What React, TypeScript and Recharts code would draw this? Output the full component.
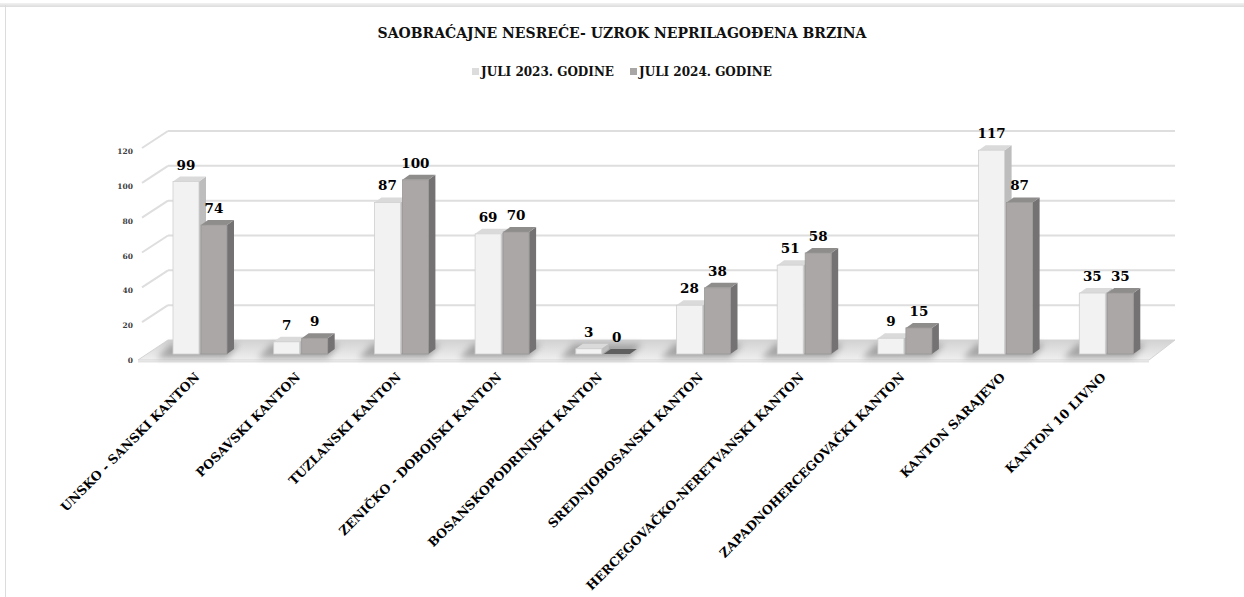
import React from 'react';
import { BarChart, Bar, XAxis, YAxis, CartesianGrid, LabelList } from 'recharts';

const CANTONS = [
  'UNSKO - SANSKI KANTON',
  'POSAVSKI KANTON',
  'TUZLANSKI KANTON',
  'ZENIČKO - DOBOJSKI KANTON',
  'BOSANSKOPODRINJSKI KANTON',
  'SREDNJOBOSANSKI KANTON',
  'HERCEGOVAČKO-NERETVANSKI KANTON',
  'ZAPADNOHERCEGOVAČKI KANTON',
  'KANTON SARAJEVO',
  'KANTON 10 LIVNO',
];
const JULY_2023 = [99, 7, 87, 69, 3, 28, 51, 9, 117, 35];
const JULY_2024 = [74, 9, 100, 70, 0, 38, 58, 15, 87, 35];
const Y_TICKS = [0, 20, 40, 60, 80, 100, 120];

const SERIES_2023 = 'JULI 2023. GODINE';
const SERIES_2024 = 'JULI 2024. GODINE';

const data = CANTONS.map((name, i) => ({ name, y2023: JULY_2023[i], y2024: JULY_2024[i] }));

const FONT = '"DejaVu Serif", "Liberation Serif", serif';

// depth of the fake 3D: floor/grid back wall and bar boxes
const BACK = { dx: 18, dy: -14 };
const FRONT = { dx: -12, dy: 6 };
const BOX = { dx: 7, dy: -5 };

const PALETTE = {
  light: { front: '#f2f2f2', top: '#dadada', side: '#bdbdbd', stroke: '#cfcfcf' },
  dark: { front: '#aba7a7', top: '#8f8c8c', side: '#747272', stroke: '#9a9696' },
};

function Box3D(props: any) {
  const { x, y, width, height, tone } = props;
  const c = PALETTE[tone as 'light' | 'dark'];
  const yb = y + (height || 0);
  // floor shadow under the pair, drawn with the first series only
  const shadow =
    tone === 'light' ? (
      <polygon
        points={`${x - 16},${yb + 4} ${x + width * 2 + 2},${yb + 4} ${x + width * 2 + 14},${yb - 10} ${x - 2},${yb - 10}`}
        fill="#7a7a7a"
        opacity={0.6}
        filter="url(#floorBlur)"
      />
    ) : null;
  if (height <= 0.5) {
    return (
      <g>
        {shadow}
        <polygon
          points={`${x},${yb} ${x + BOX.dx},${yb + BOX.dy} ${x + width + BOX.dx},${yb + BOX.dy} ${x + width},${yb}`}
          fill={tone === 'light' ? '#f4f4f4' : '#5f5f5f'}
          stroke={tone === 'light' ? '#d0d0d0' : 'none'}
          strokeWidth={0.6}
        />
      </g>
    );
  }
  const top = `${x},${y} ${x + BOX.dx},${y + BOX.dy} ${x + width + BOX.dx},${y + BOX.dy} ${x + width},${y}`;
  const side = `${x + width},${y} ${x + width + BOX.dx},${y + BOX.dy} ${x + width + BOX.dx},${yb + BOX.dy} ${x + width},${yb}`;
  return (
    <g>
      {shadow}
      <polygon points={side} fill={c.side} />
      <polygon points={top} fill={c.top} />
      <rect x={x} y={y} width={width} height={height} fill={c.front} stroke={c.stroke} strokeWidth={0.8} />
    </g>
  );
}

function GridLine(props: any) {
  const { x1, x2, y1, index } = props;
  const fx = x1 + FRONT.dx;
  const fy = y1 + FRONT.dy;
  const bx = x1 + BACK.dx;
  const by = y1 + BACK.dy;
  const ex = x2 + BACK.dx;
  if (y1 > 350) {
    // floor slab at value 0
    return (
      <g key={`floor-${index}`}>
        <polygon
          points={`${fx},${fy} ${x2 - 8},${fy} ${ex},${by} ${bx},${by}`}
          fill="url(#floorGrad)"
          stroke="#d4d4d4"
          strokeWidth={1}
        />
        <line x1={fx} y1={fy + 1.5} x2={x2 - 8} y2={fy + 1.5} stroke="#e3e3e3" strokeWidth={2} />
      </g>
    );
  }
  return (
    <g key={`grid-${index}`}>
      <line x1={fx + 4} y1={fy - 3} x2={bx} y2={by} stroke="#dedede" strokeWidth={2} />
      <line x1={bx} y1={by} x2={ex} y2={by} stroke="#dedede" strokeWidth={2} />
    </g>
  );
}

function CantonTick(props: any) {
  const { x, y, payload } = props;
  const ax = x;
  const ay = y + 22;
  return (
    <text
      x={ax}
      y={ay}
      transform={`rotate(-45, ${ax}, ${ay})`}
      textAnchor="end"
      fontFamily={FONT}
      fontWeight={700}
      fontSize={12.5}
      fill="#000"
    >
      {payload.value}
    </text>
  );
}

function ValueTick(props: any) {
  const { y, payload } = props;
  return (
    <text x={133} y={y + FRONT.dy + 3} textAnchor="end" fontFamily={FONT} fontWeight={700} fontSize={7.5} fill="#404040">
      {payload.value}
    </text>
  );
}

function ValueLabel(props: any) {
  const { x, y, width, value } = props;
  return (
    <text
      x={x + width / 2}
      y={y - 12}
      textAnchor="middle"
      fontFamily={FONT}
      fontWeight={700}
      fontSize={13.5}
      fill="#000"
    >
      {value}
    </text>
  );
}

function LegendKey({ color, label }: { color: string; label: string }) {
  return (
    <span style={{ display: 'inline-flex', alignItems: 'center', marginRight: 16 }}>
      <span style={{ width: 7, height: 7, background: color, display: 'inline-block', marginRight: 2 }} />
      <span>{label}</span>
    </span>
  );
}

export default function App() {
  return (
    <div style={{ position: 'relative', width: 1244, height: 597, background: '#fff', overflow: 'hidden' }}>
      <style>{'body{margin:0}'}</style>
      <div
        style={{
          position: 'absolute',
          left: 0,
          top: 3,
          width: 1244,
          height: 4,
          background: 'linear-gradient(#f2f2f2, #dcdcdc)',
        }}
      />
      <div style={{ position: 'absolute', left: 5, top: 5, width: 1, height: 600, background: '#dcdcdc' }} />
      <div
        style={{
          position: 'absolute',
          top: 25,
          left: 0,
          width: 1244,
          textAlign: 'center',
          fontFamily: FONT,
          fontWeight: 700,
          fontSize: 14,
          color: '#111',
        }}
      >
        SAOBRAĆAJNE NESREĆE- UZROK NEPRILAGOĐENA BRZINA
      </div>
      <div
        style={{
          position: 'absolute',
          top: 64,
          left: 0,
          width: 1244,
          textAlign: 'center',
          fontFamily: FONT,
          fontWeight: 700,
          fontSize: 12,
          color: '#111',
          paddingLeft: 16,
          boxSizing: 'border-box',
        }}
      >
        <LegendKey color="#dcdcdc" label={SERIES_2023} />
        <LegendKey color="#a9a6a6" label={SERIES_2024} />
      </div>
      <div style={{ position: 'absolute', left: 0, top: 0 }}>
        <BarChart
          width={1244}
          height={597}
          data={data}
          margin={{ top: 145, right: 87, bottom: 213, left: 90 }}
          barSize={26}
          barGap={2}
        >
          <defs>
            <linearGradient id="floorGrad" x1="0" y1="0" x2="0" y2="1">
              <stop offset="0%" stopColor="#d2d2d2" />
              <stop offset="100%" stopColor="#f0f0f0" />
            </linearGradient>
            <filter id="floorBlur" x="-20%" y="-50%" width="140%" height="200%">
              <feGaussianBlur stdDeviation="3" />
            </filter>
          </defs>
          <CartesianGrid vertical={false} horizontal={(p: any) => <GridLine {...p} />} />
          <XAxis
            dataKey="name"
            interval={0}
            axisLine={false}
            tickLine={false}
            tickSize={0}
            height={30}
            tick={<CantonTick />}
          />
          <YAxis
            domain={[0, 120]}
            ticks={Y_TICKS}
            axisLine={false}
            tickLine={false}
            tickSize={0}
            width={60}
            tick={<ValueTick />}
          />
          <Bar dataKey="y2023" name={SERIES_2023} isAnimationActive={false} shape={(p: any) => <Box3D {...p} tone="light" />}>
            <LabelList dataKey="y2023" content={<ValueLabel />} />
          </Bar>
          <Bar dataKey="y2024" name={SERIES_2024} isAnimationActive={false} shape={(p: any) => <Box3D {...p} tone="dark" />}>
            <LabelList dataKey="y2024" content={<ValueLabel />} />
          </Bar>
        </BarChart>
      </div>
    </div>
  );
}
